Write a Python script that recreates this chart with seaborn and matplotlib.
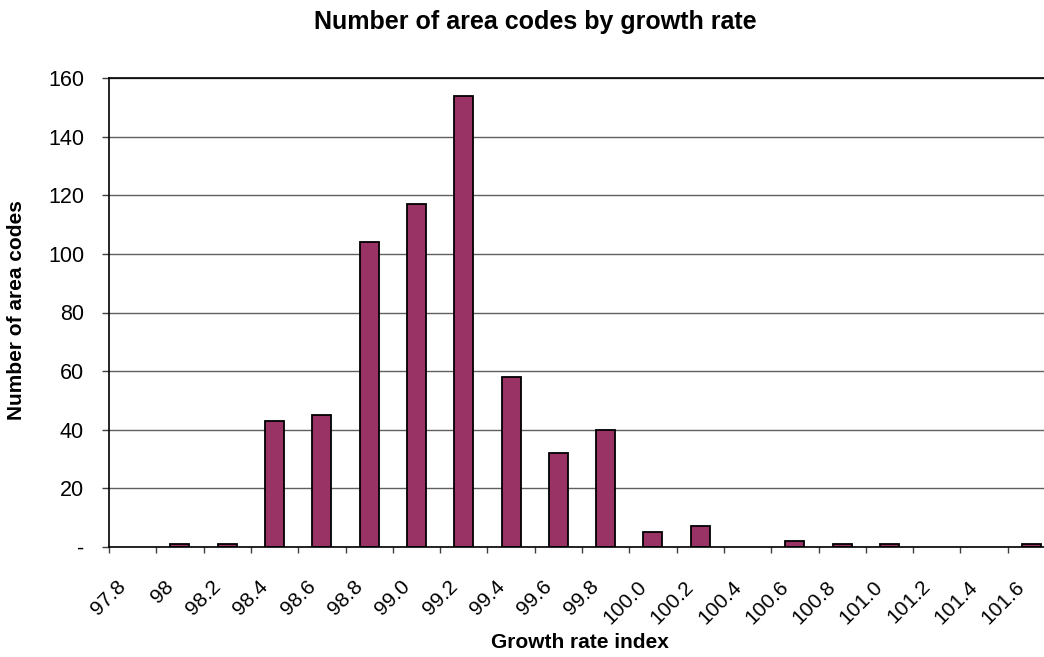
import matplotlib
matplotlib.use("Agg")
import matplotlib.pyplot as plt
import matplotlib.transforms as mtransforms
import seaborn as sns
import pandas as pd
import numpy as np
from matplotlib.ticker import FuncFormatter

# Bin boundary labels (growth rate index) and the count of area codes in each bin
boundary_labels = ["97.8", "98", "98.2", "98.4", "98.6", "98.8", "99.0", "99.2",
                   "99.4", "99.6", "99.8", "100.0", "100.2", "100.4", "100.6",
                   "100.8", "101.0", "101.2", "101.4", "101.6"]
bin_names = ["97.8-98.0", "98.0-98.2", "98.2-98.4", "98.4-98.6", "98.6-98.8",
             "98.8-99.0", "99.0-99.2", "99.2-99.4", "99.4-99.6", "99.6-99.8",
             "99.8-100.0", "100.0-100.2", "100.2-100.4", "100.4-100.6",
             "100.6-100.8", "100.8-101.0", "101.0-101.2", "101.2-101.4",
             "101.4-101.6", "101.6-101.8"]
counts = [0, 1, 1, 43, 45, 104, 117, 154, 58, 32, 40, 5, 7, 0, 2, 1, 1, 0, 0, 1]
y_ticks = [0, 20, 40, 60, 80, 100, 120, 140, 160]

sns.set_style("white")
plt.rcParams["font.family"] = ["Liberation Sans", "DejaVu Sans"]
plt.rcParams["text.color"] = "black"
plt.rcParams["xtick.color"] = "black"
plt.rcParams["ytick.color"] = "black"

df = pd.DataFrame({"bin": bin_names, "count": counts})

W, H = 1044, 657
DPI = 100
fig = plt.figure(figsize=(W / DPI, H / DPI), dpi=DPI)
ax = fig.add_axes([109 / W, (H - 547) / H, 946 / W, 469 / H])

sns.barplot(data=df, x="bin", y="count", order=bin_names, color="#993366",
            saturation=1, width=0.4, edgecolor="black", linewidth=1.3, ax=ax)

# empty bins draw nothing
for patch in ax.patches:
    if patch.get_height() == 0:
        patch.set_visible(False)

ax.set_xlim(-0.5, len(bin_names) - 0.5)
ax.set_ylim(0, 160)

# Ticks sit on the bin boundaries; labels end just right of their tick
ax.set_xticks(np.arange(len(boundary_labels)) - 0.5)
ax.set_xticklabels(boundary_labels, rotation=45, ha="right", va="top",
                   fontsize=15)
ax.tick_params(axis="x", length=4.5, width=1, color="#404040", pad=17,
               direction="out", bottom=True, labelcolor="black")
shift = mtransforms.ScaledTranslation(21 / DPI, 0, fig.dpi_scale_trans)
for lbl in ax.get_xticklabels():
    lbl.set_transform(lbl.get_transform() + shift)

ax.set_yticks(y_ticks)
ax.yaxis.set_major_formatter(FuncFormatter(lambda v, p: "-" if v == 0 else f"{int(v)}"))
ax.tick_params(axis="y", length=5, width=1, color="#404040", pad=13,
               direction="out", left=True, labelsize=15.5, labelcolor="black")

ax.yaxis.grid(True, color="#606060", linewidth=1)
ax.xaxis.grid(False)
ax.set_axisbelow(True)

for side in ["left", "bottom", "top"]:
    ax.spines[side].set_visible(True)
    ax.spines[side].set_color("black")
    ax.spines[side].set_linewidth(1.2)
ax.spines["right"].set_visible(False)

ax.set_xlabel("")
ax.set_ylabel("")

fig.text(535 / W, 1 - 22 / H, "Number of area codes by growth rate",
         ha="center", va="center", fontsize=18, fontweight="bold")
fig.text(580 / W, 1 - 643 / H, "Growth rate index",
         ha="center", va="center", fontsize=15, fontweight="bold")
fig.text(17 / W, 1 - 310 / H, "Number of area codes", rotation=90,
         ha="center", va="center", fontsize=15, fontweight="bold")

fig.savefig("out.png", dpi=DPI)
